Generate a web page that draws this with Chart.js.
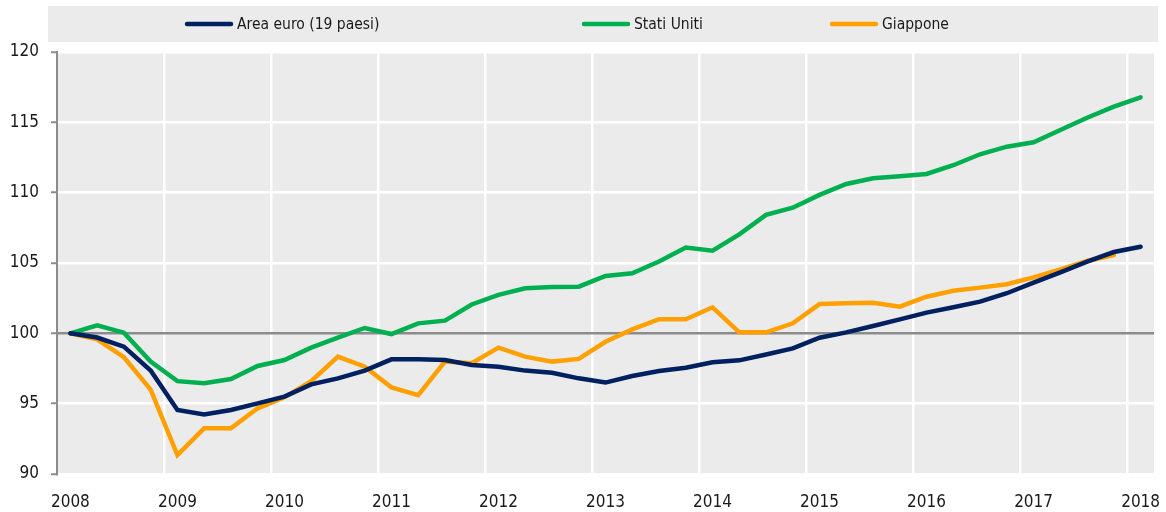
<!DOCTYPE html>
<html>
<head>
<meta charset="utf-8">
<script src="https://cdn.jsdelivr.net/npm/chart.js@4/dist/chart.umd.min.js"></script>
<style>
  html, body { margin: 0; padding: 0; background: #fff; }
  #box { width: 1166px; height: 512px; }
</style>
</head>
<body>
<div id="box"><canvas id="grafico"></canvas></div>
<script>
// trimestri 2008 T1 - 2018 T1
var trimestri = [];
for (var a = 2008; a <= 2018; a++) {
    for (var t = 1; t <= 4; t++) {
        if (a === 2018 && t > 1) break;
        trimestri.push(a + ' T' + t);
    }
}

// etichette dell'asse y
var tickY = [90, 95, 100, 105, 110, 115, 120];

// serie (indice 2008 T1 = 100)
var areaEuro = [100, 99.7, 99.05, 97.35, 94.55, 94.24, 94.55, 95.02, 95.5, 96.37, 96.8, 97.35,
    98.15, 98.15, 98.1, 97.75, 97.63, 97.35, 97.2, 96.8, 96.5, 96.97, 97.32, 97.56,
    97.94, 98.08, 98.5, 98.93, 99.69, 100.07, 100.52, 100.99, 101.47, 101.85, 102.25, 102.85,
    103.6, 104.34, 105.1, 105.78, 106.16];
var statiUniti = [100, 100.57, 100.05, 97.99, 96.6, 96.45, 96.75, 97.68, 98.1, 98.98, 99.7, 100.38,
    99.95, 100.71, 100.9, 102.05, 102.73, 103.2, 103.3, 103.32, 104.08, 104.27, 105.1, 106.1,
    105.88, 107.04, 108.42, 108.93, 109.84, 110.62, 111.02, 111.16, 111.33, 111.95, 112.73, 113.27,
    113.58, 114.46, 115.33, 116.11, 116.78];
var giappone = [100, 99.57, 98.3, 96.0, 91.35, 93.25, 93.25, 94.67, 95.45, 96.6, 98.34, 97.63,
    96.16, 95.6, 97.99, 97.87, 98.98, 98.34, 97.99, 98.18, 99.4, 100.28, 101.0, 101.0,
    101.85, 100.07, 100.07, 100.71, 102.08, 102.13, 102.18, 101.9, 102.6, 103.03, 103.25, 103.49,
    103.98, 104.55, 105.14, 105.57, null];

var FONT = "'Liberation Sans Narrow', 'DejaVu Sans Condensed', 'Liberation Sans', sans-serif";
var GRIGIO = '#ebebeb';
var TESTO = '#1a1a1a';

// sfondo grigio dell'area del grafico e fascia della legenda
var sfondo = {
    id: 'sfondo',
    beforeDraw: function (chart) {
        var c = chart.ctx, ca = chart.chartArea;
        c.save();
        c.fillStyle = GRIGIO;
        c.fillRect(ca.left, ca.top, ca.right - ca.left, ca.bottom - ca.top);
        c.fillRect(ca.left - 9, 6, ca.right - ca.left + 13, 36);
        c.restore();
    }
};

// legenda disegnata a mano nella fascia in alto
var posLegenda = [185, 582, 830];
var legenda = {
    id: 'legenda',
    afterDraw: function (chart) {
        var c = chart.ctx, ds = chart.data.datasets;
        var linea = 48, spazio = 4, y = 24;
        c.save();
        c.font = '15.5px ' + FONT;
        c.textBaseline = 'middle';
        ds.forEach(function (d, i) {
            var x = posLegenda[i];
            c.strokeStyle = d.borderColor;
            c.lineWidth = 4.5;
            c.lineCap = 'round';
            c.beginPath();
            c.moveTo(x + 2, y);
            c.lineTo(x + linea - 2, y);
            c.stroke();
            c.fillStyle = TESTO;
            c.fillText(d.label, x + linea + spazio, y + 1);
        });
        c.restore();
    }
};

var ctx = document.querySelector('#grafico');
var chart = new Chart(ctx, {
    type: 'line',
    data: {
        labels: trimestri,
        datasets: [{
            label: 'Area euro (19 paesi)',
            data: areaEuro,
            borderColor: '#002060',
            backgroundColor: '#002060',
            borderWidth: 4.5,
            pointRadius: 0,
            borderCapStyle: 'round',
            tension: 0
        }, {
            label: 'Stati Uniti',
            data: statiUniti,
            borderColor: '#00b050',
            backgroundColor: '#00b050',
            borderWidth: 4.5,
            pointRadius: 0,
            borderCapStyle: 'round',
            tension: 0
        }, {
            label: 'Giappone',
            data: giappone,
            borderColor: '#ffa000',
            backgroundColor: '#ffa000',
            borderWidth: 4.5,
            pointRadius: 0,
            borderCapStyle: 'round',
            tension: 0
        }]
    },
    options: {
        responsive: true,
        maintainAspectRatio: false,
        animation: false,
        layout: { padding: { top: 52, right: 0, bottom: 0, left: 0 } },
        plugins: {
            legend: { display: false },
            tooltip: { enabled: false }
        },
        scales: {
            x: {
                offset: true,
                afterFit: function (ax) { ax.height = 38; ax.paddingRight = 12; },
                grid: {
                    offset: true,
                    drawTicks: false,
                    lineWidth: 2.5,
                    color: function (c) { return c.index % 4 === 0 && c.index > 0 ? '#ffffff' : 'rgba(0,0,0,0)'; }
                },
                border: { display: false },
                ticks: {
                    autoSkip: false,
                    maxRotation: 0,
                    padding: 18,
                    color: TESTO,
                    font: { family: FONT, size: 17 },
                    callback: function (v, i) { return i % 4 === 0 ? trimestri[i].slice(0, 4) : ''; }
                }
            },
            y: {
                min: tickY[0],
                max: tickY[tickY.length - 1],
                afterBuildTicks: function (ax) { ax.ticks = tickY.map(function (v) { return { value: v }; }); },
                afterFit: function (ax) { ax.width = 57; },
                grid: {
                    lineWidth: 2.5,
                    tickLength: 6,
                    tickColor: '#8c8c8c',
                    tickWidth: 2,
                    color: function (c) { return c.tick && c.tick.value === 100 ? '#8c8c8c' : '#ffffff'; }
                },
                border: { display: true, color: '#8c8c8c', width: 2 },
                ticks: {
                    padding: 12,
                    color: TESTO,
                    font: { family: FONT, size: 17 }
                }
            }
        }
    },
    plugins: [sfondo, legenda]
});
</script>
</body>
</html>
